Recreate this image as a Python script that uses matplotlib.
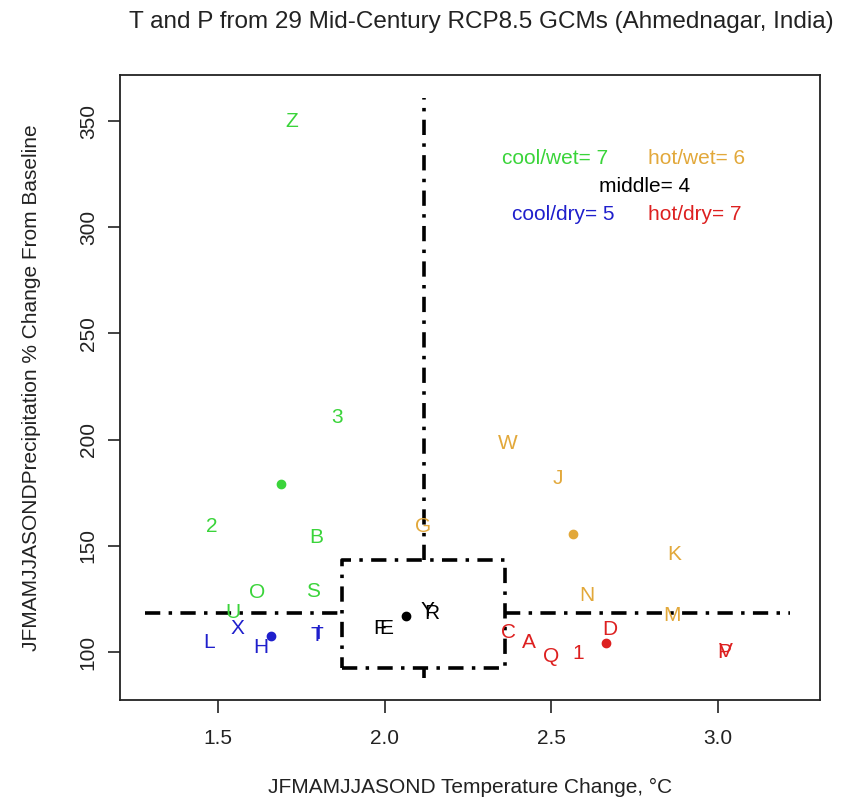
import matplotlib
matplotlib.use("Agg")
import matplotlib.pyplot as plt

plt.rcParams['font.family'] = ['Liberation Sans', 'DejaVu Sans']
plt.rcParams['lines.scale_dashes'] = False

# ---- data (temperature change degC, precipitation % of baseline) ----
cool_wet_labels = ['Z', '3', '2', 'B', 'O', 'S', 'U']
cool_wet_t = [1.722, 1.857, 1.482, 1.794, 1.617, 1.785, 1.545]
cool_wet_p = [350.0, 210.6, 159.3, 154.1, 128.2, 128.7, 118.4]

cool_dry_labels = ['L', 'X', 'H', 'T', 'I']
cool_dry_t = [1.473, 1.557, 1.629, 1.797, 1.800]
cool_dry_p = [104.7, 111.3, 101.9, 108.0, 108.6]

hot_wet_labels = ['W', 'J', 'G', 'K', 'N', 'M']
hot_wet_t = [2.370, 2.520, 2.115, 2.868, 2.607, 2.862]
hot_wet_p = [198.4, 181.5, 158.9, 145.7, 126.8, 117.0]

hot_dry_labels = ['C', 'A', 'Q', '1', 'D', 'P', 'V']
hot_dry_t = [2.373, 2.433, 2.499, 2.580, 2.676, 3.019, 3.023]
hot_dry_p = [109.4, 104.7, 98.1, 99.5, 110.4, 100.0, 100.3]

middle_labels = ['F', 'E', 'Y', 'R']
middle_t = [1.986, 2.004, 2.127, 2.142]
middle_p = [111.3, 111.3, 119.5, 118.2]

# group centroids (dots)
centroid_t = [1.689, 1.659, 2.565, 2.664, 2.064]
centroid_p = [179.1, 107.5, 155.6, 104.2, 116.8]

# thresholds / box
med_t = 2.118
med_p = 118.4
box_t = [1.872, 2.361]
box_p = [92.5, 143.3]
vline_p = [87.8, 361.0]
hline_t = [1.281, 3.216]

counts = {'cool/wet': 7, 'hot/wet': 6, 'middle': 4, 'cool/dry': 5, 'hot/dry': 7}

xticks = [1.5, 2.0, 2.5, 3.0]
yticks = [100, 150, 200, 250, 300, 350]

c_green = '#3ad43a'
c_blue = '#1f1fcc'
c_orange = '#e2a83a'
c_red = '#dd2020'
c_black = '#000000'

W, H = 845, 802
fig = plt.figure(figsize=(W / 100, H / 100), dpi=100)
ax = fig.add_axes([120 / W, (H - 700) / H, 700 / W, 625 / H])
ax.set_xlim(1.206, 3.306)
ax.set_ylim(77.4, 371.7)

fs = 15
groups = [
    (cool_wet_labels, cool_wet_t, cool_wet_p, c_green),
    (cool_dry_labels, cool_dry_t, cool_dry_p, c_blue),
    (hot_wet_labels, hot_wet_t, hot_wet_p, c_orange),
    (hot_dry_labels, hot_dry_t, hot_dry_p, c_red),
    (middle_labels, middle_t, middle_p, c_black),
]
for labs, ts, ps, col in groups:
    for lab, t, p in zip(labs, ts, ps):
        ax.text(t, p, lab, color=col, fontsize=fs, ha='center', va='center')

dot_cols = [c_green, c_blue, c_orange, c_red, c_black]
for t, p, col in zip(centroid_t, centroid_p, dot_cols):
    ax.plot(t, p, 'o', color=col, ms=6, mec=col)

ls = (0, (11, 6, 2.5, 6))
lw = 2.6
ax.plot([med_t, med_t], [box_p[1], vline_p[1]], color='k', lw=lw, ls=ls)
ax.plot([med_t, med_t], [vline_p[0], box_p[0]], color='k', lw=lw, ls=ls)
ax.plot([hline_t[0], box_t[0]], [med_p, med_p], color='k', lw=lw, ls=ls)
ax.plot([box_t[1], hline_t[1]], [med_p, med_p], color='k', lw=lw, ls=ls)
ax.plot([box_t[0], box_t[1], box_t[1], box_t[0], box_t[0]],
        [box_p[0], box_p[0], box_p[1], box_p[1], box_p[0]],
        color='k', lw=lw, ls=ls)

# counts text
ax.text(2.511, 332.6, f"cool/wet= {counts['cool/wet']}", color=c_green, fontsize=fs, ha='center', va='center')
ax.text(2.937, 332.6, f"hot/wet= {counts['hot/wet']}", color=c_orange, fontsize=fs, ha='center', va='center')
ax.text(2.781, 319.4, f"middle= {counts['middle']}", color=c_black, fontsize=fs, ha='center', va='center')
ax.text(2.535, 306.2, f"cool/dry= {counts['cool/dry']}", color=c_blue, fontsize=fs, ha='center', va='center')
ax.text(2.931, 306.2, f"hot/dry= {counts['hot/dry']}", color=c_red, fontsize=fs, ha='center', va='center')

ax.set_xticks(xticks)
ax.set_xticklabels([f"{v:.1f}" for v in xticks])
ax.set_yticks(yticks)
ax.set_yticklabels([str(v) for v in yticks], rotation=90, va='center')
ax.tick_params(axis='both', labelsize=fs, length=9, width=1.2, color='#222222', labelcolor='#222222')
ax.tick_params(axis='x', pad=12)
ax.tick_params(axis='y', pad=7)
for s in ax.spines.values():
    s.set_linewidth(1.3)
    s.set_color('#222222')

fig.text(481 / W, 1 - 22 / H, "T and P from 29 Mid-Century RCP8.5 GCMs (Ahmednagar, India)",
         fontsize=17.5, ha='center', va='center', color='#222222')
fig.text(470 / W, 1 - 787 / H, "JFMAMJJASOND Temperature Change, \u00b0C",
         fontsize=fs, ha='center', va='center', color='#222222')
fig.text(32 / W, 1 - 388 / H, "JFMAMJJASONDPrecipitation % Change From Baseline",
         fontsize=fs, ha='center', va='center', rotation=90, color='#222222')

fig.savefig('out.png', dpi=100)
